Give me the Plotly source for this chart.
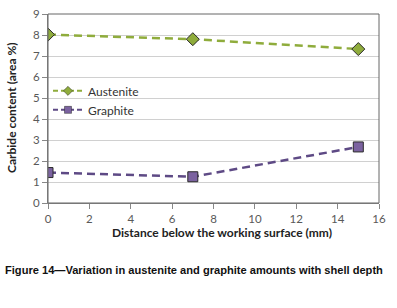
import plotly.graph_objects as go

distance = [0, 7, 15]
austenite = [8.02, 7.8, 7.33]
graphite = [1.45, 1.25, 2.67]
x_ticks = [0, 2, 4, 6, 8, 10, 12, 14, 16]
y_ticks = [0, 1, 2, 3, 4, 5, 6, 7, 8, 9]

GREEN = "#8FAC3C"
PURPLE_LINE = "#5E4A85"
PURPLE = "#7B62A0"

fig = go.Figure()
fig.add_trace(go.Scatter(
    x=distance, y=austenite, name="Austenite", mode="lines+markers", showlegend=False,
    line=dict(color=GREEN, width=2.5, dash="8px,5px"),
    marker=dict(symbol="diamond", size=10, color=GREEN, line=dict(color="#2a2a2a", width=1)),
))
fig.add_trace(go.Scatter(
    x=distance, y=graphite, name="Graphite", mode="lines+markers", showlegend=False,
    line=dict(color=PURPLE_LINE, width=2.5, dash="8px,5px"),
    marker=dict(symbol="square", size=10, color=PURPLE, line=dict(color="#2a2a2a", width=1)),
))
# legend entries
fig.add_trace(go.Scatter(
    x=[None], y=[None], name="Austenite", mode="lines+markers",
    line=dict(color=GREEN, width=2, dash="5px,3px"),
    marker=dict(symbol="diamond", size=7, color=GREEN, line=dict(color="#2a2a2a", width=0.5)),
))
fig.add_trace(go.Scatter(
    x=[None], y=[None], name="Graphite", mode="lines+markers",
    line=dict(color=PURPLE_LINE, width=2, dash="5px,3px"),
    marker=dict(symbol="square", size=7, color=PURPLE, line=dict(color="#2a2a2a", width=0.5)),
))

tickfont = dict(family="Lato, sans-serif", size=11.5, color="#595959")
fig.update_layout(
    width=397, height=308,
    margin=dict(l=48, r=18, t=14, b=105, autoexpand=False),
    plot_bgcolor="white", paper_bgcolor="white",
    showlegend=True,
    legend=dict(x=0.0, y=0.67, xanchor="left", yanchor="top",
                font=dict(family="Lato, sans-serif", size=12, color="#333"),
                bgcolor="rgba(255,255,255,0)", tracegroupgap=4, itemwidth=30),
    xaxis=dict(range=[0, 16], tickvals=x_ticks, showgrid=False, zeroline=False,
               showline=True, linecolor="#888", linewidth=1, automargin=False,
               ticks="outside", ticklen=5, tickcolor="#888", tickfont=tickfont),
    yaxis=dict(range=[0, 9], tickvals=y_ticks, showgrid=True, gridcolor="#D0D0D0", gridwidth=1,
               zeroline=False, showline=True, linecolor="#888", linewidth=1, automargin=False,
               ticks="outside", ticklen=5, tickcolor="#888", tickfont=tickfont),
)
fig.add_shape(type="rect", xref="paper", yref="paper", x0=0, y0=0, x1=1, y1=1,
              line=dict(color="#666", width=1), layer="above")

PH = 308 - 14 - 105
PW = 397 - 48 - 18
def py(pix):
    return (308 - 105 - pix) / PH
def px(pix):
    return (pix - 48) / PW

fig.add_annotation(text="<b>Distance below the working surface (mm)</b>",
                   xref="paper", yref="paper", x=px(222), y=py(233), xanchor="center", yanchor="middle",
                   showarrow=False, font=dict(family="Lato, sans-serif", size=12, color="#222"))
fig.add_annotation(text="<b>Carbide content (area %)</b>", textangle=-90,
                   xref="paper", yref="paper", x=px(11), y=py(108), xanchor="center", yanchor="middle",
                   showarrow=False, font=dict(family="Lato, sans-serif", size=12, color="#222"))
fig.add_annotation(text="<b>Figure 14\u2014Variation in austenite and graphite amounts with shell depth</b>",
                   xref="paper", yref="paper", x=px(3), y=py(270), xanchor="left", yanchor="middle",
                   showarrow=False, font=dict(family="Liberation Sans, Arial", size=11.1, color="#111"))

fig.write_html("out.html", config={"displayModeBar": False},
               post_script="document.body.style.margin='0';document.body.style.overflow='hidden';")
